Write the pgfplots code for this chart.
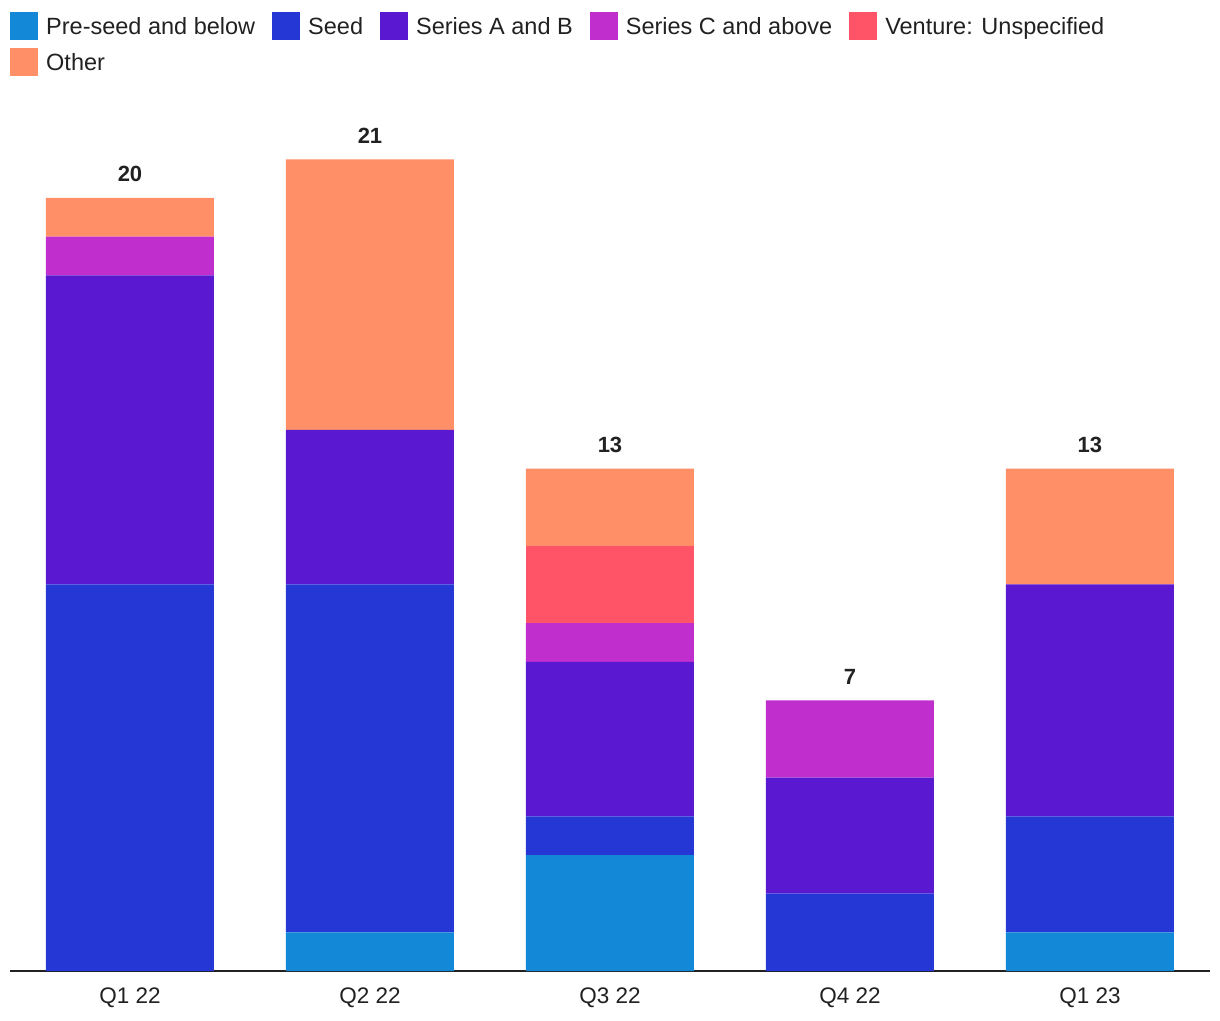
\documentclass[border=0pt]{standalone}
\usepackage{pgfplots}
\pgfplotsset{compat=1.18}
\usepackage{fontspec}
\setmainfont{Liberation Sans}
\definecolor{cpre}{HTML}{1288D6}
\definecolor{cseed}{HTML}{2538D5}
\definecolor{cab}{HTML}{5A19D0}
\definecolor{cc}{HTML}{C02ECD}
\definecolor{cven}{HTML}{FF5468}
\definecolor{coth}{HTML}{FF8F66}
\definecolor{ctxt}{HTML}{212121}
\begin{document}
\begin{tikzpicture}
\useasboundingbox (0,0) rectangle (1220pt,1020pt);
\begin{axis}[
  at={(10pt,49pt)}, anchor=south west,
  scale only axis,
  width=1200pt, height=850.3pt,
  xmin=-0.5, xmax=4.5, ymin=0, ymax=22,
  ybar stacked, bar width=168pt,
  axis x line*=bottom, axis y line=none,
  x axis line style={-, line width=2pt, color=ctxt},
  xtick={0,1,2,3,4},
  xticklabels={Q1 22,Q2 22,Q3 22,Q4 22,Q1 23},
  xtick style={draw=none},
  ytick=\empty,
  xticklabel style={font=\fontsize{22.5}{27}\selectfont, text=ctxt, yshift=-13pt},
  legend columns=5,
  legend style={at={(0,1.1278)}, anchor=north west, draw=none, fill=none,
    inner sep=0pt, font=\fontsize{23.5}{28}\selectfont, text=ctxt,
    nodes={inner sep=0pt, anchor=base west},
    /tikz/every odd column/.style={column sep=8pt},
    /tikz/every even column/.style={column sep=17pt},
    /tikz/row sep=8.3pt},
  legend cell align=left,
  legend image code/.code={\fill[#1] (0pt,-5.4pt) rectangle (28pt,22.3pt);},
]
\addplot[fill=cpre, draw=none] coordinates {(0,0) (1,1) (2,3) (3,0) (4,1)};
\addlegendentry{Pre-seed and below}
\addplot[fill=cseed, draw=none] coordinates {(0,10) (1,9) (2,1) (3,2) (4,3)};
\addlegendentry{Seed}
\addplot[fill=cab, draw=none] coordinates {(0,8) (1,4) (2,4) (3,3) (4,6)};
\addlegendentry{Series A and B}
\addplot[fill=cc, draw=none] coordinates {(0,1) (1,0) (2,1) (3,2) (4,0)};
\addlegendentry{Series C and above}
\addplot[fill=cven, draw=none] coordinates {(0,0) (1,0) (2,2) (3,0) (4,0)};
\addlegendentry{Venture: Unspecified}
\addplot[fill=coth, draw=none] coordinates {(0,1) (1,7) (2,2) (3,0) (4,3)};
\addlegendentry{Other}
\end{axis}
\begin{axis}[
  at={(10pt,49pt)}, anchor=south west,
  scale only axis,
  width=1200pt, height=850.3pt,
  xmin=-0.5, xmax=4.5, ymin=0, ymax=22,
  hide axis, clip=false,
]
\addplot[draw=none, mark=none,
  nodes near coords, point meta=explicit symbolic,
  every node near coord/.append style={font=\fontsize{22}{26}\selectfont\bfseries, text=ctxt, anchor=base, inner sep=0pt, yshift=16pt}]
  coordinates {(0,20) [20] (1,21) [21] (2,13) [13] (3,7) [7] (4,13) [13]};
\end{axis}
\end{tikzpicture}
\end{document}
